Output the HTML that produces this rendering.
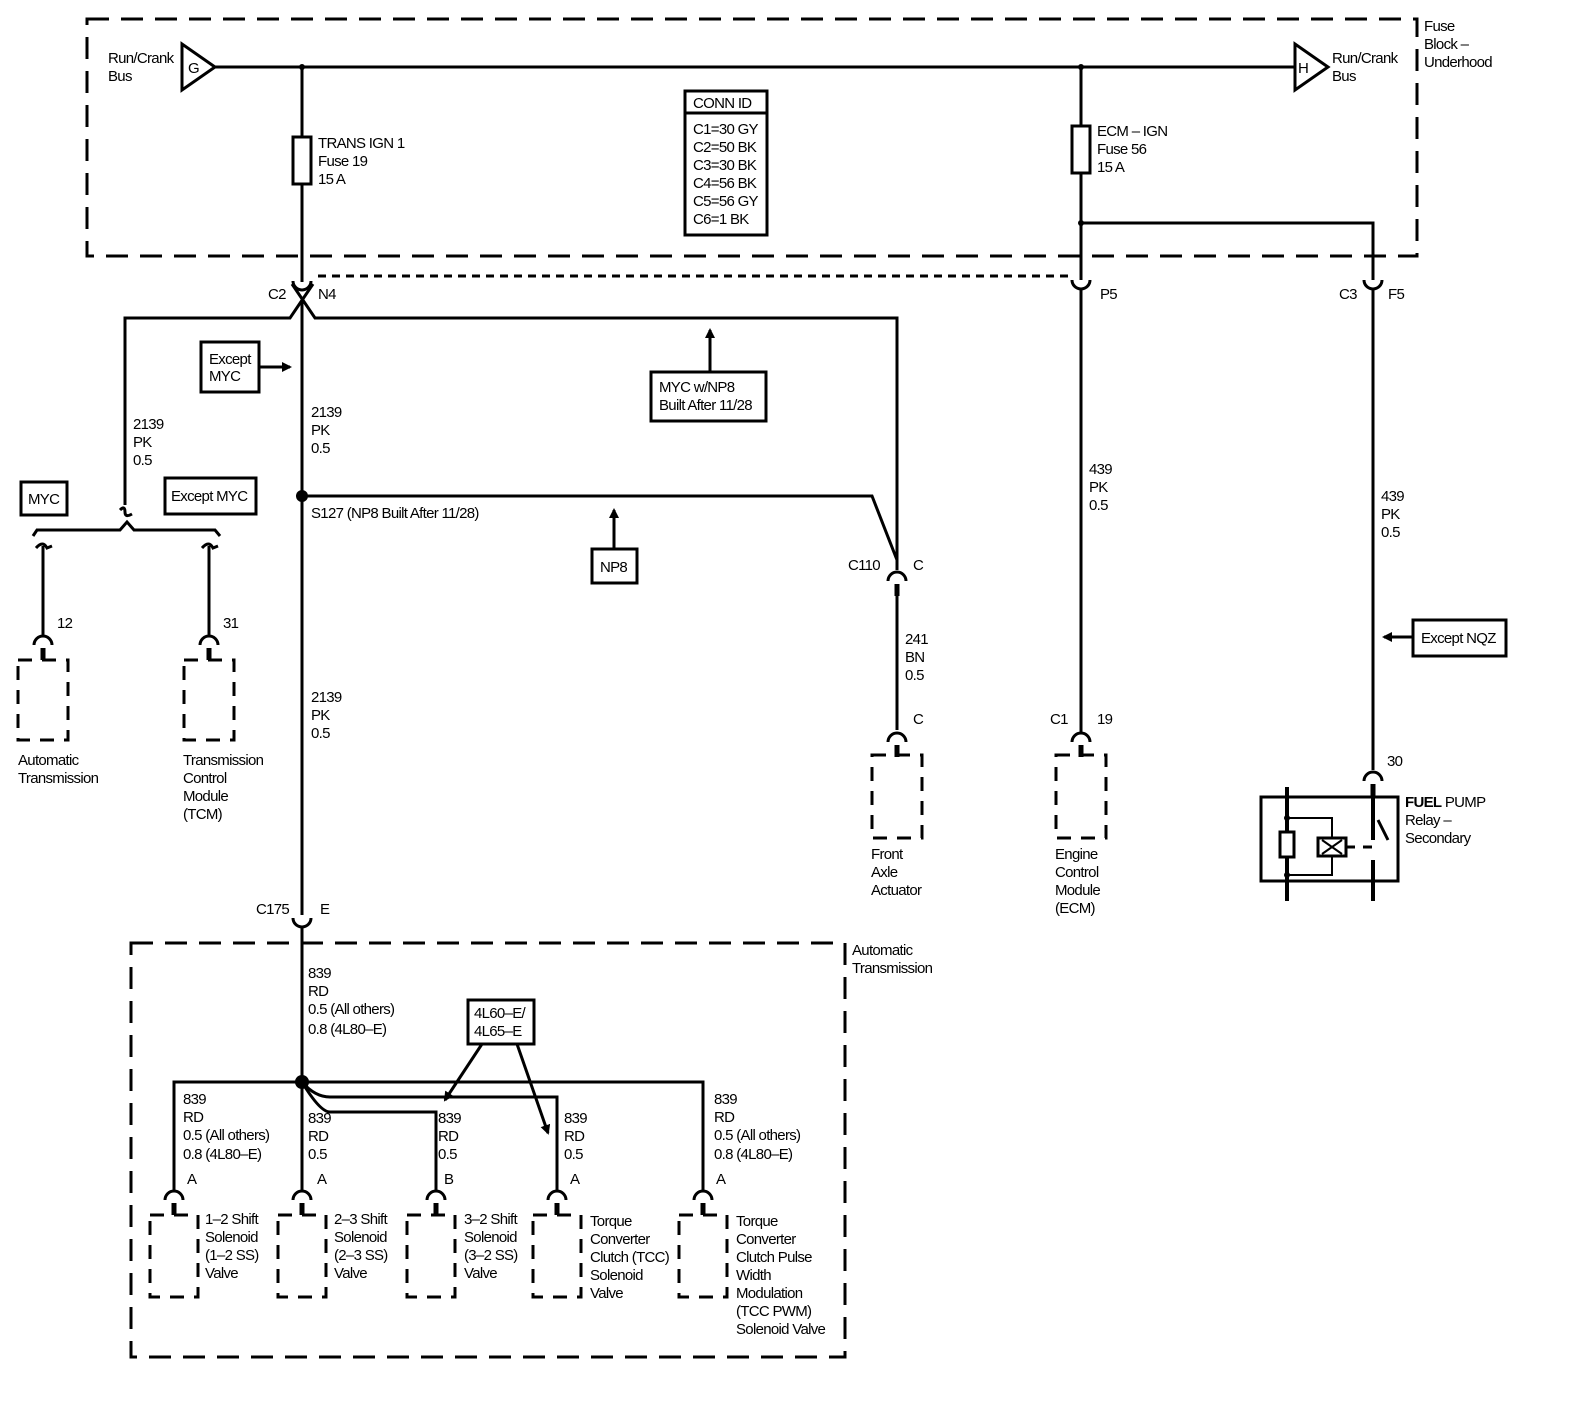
<!DOCTYPE html>
<html><head><meta charset="utf-8"><style>
html,body{margin:0;padding:0;background:#fff}
svg text{font-family:"Liberation Sans",sans-serif;font-size:15px;letter-spacing:-0.7px;fill:#000}
</style></head><body>
<svg width="1584" height="1408" viewBox="0 0 1584 1408" xmlns="http://www.w3.org/2000/svg">
<defs>
<g id="cn"><path d="M-9,5 A9,9 0 0 1 9,5" fill="none" stroke="#000" stroke-width="3"/><line x1="0" y1="8" x2="0" y2="20" stroke="#000" stroke-width="5"/></g>
<g id="cd"><path d="M-9,-5 A9,9 0 0 0 9,-5" fill="none" stroke="#000" stroke-width="3"/></g>
<marker id="ar" markerWidth="10" markerHeight="10" refX="8" refY="5" orient="auto" markerUnits="userSpaceOnUse"><path d="M0,0 L10,5 L0,10 z"/></marker>
</defs>
<g fill="none" stroke="#000" stroke-width="3">
<rect x="87" y="19" width="1330" height="237" stroke-dasharray="22 12"/>
<polygon points="182,44 182,90 215,67" fill="#fff"/>
<polygon points="1295,44 1295,90 1328,67" fill="#fff"/>
<line x1="215" y1="67" x2="1295" y2="67"/>
<line x1="302" y1="67" x2="302" y2="282"/>
<rect x="293" y="137" width="18" height="47" fill="#fff"/>
<line x1="1081" y1="67" x2="1081" y2="280"/>
<rect x="1072" y="126" width="18" height="47" fill="#fff"/>
<polyline points="1081,223 1373,223 1373,280"/>
<rect x="685" y="91" width="82" height="144"/>
<line x1="685" y1="113" x2="767" y2="113"/>
<path d="M293,281 A9,9 0 0 0 311,281"/>
<polyline points="125,505 125,318 290,318 313,284"/>
<polyline points="897,570 897,318 315,318 292,284"/>
<line x1="302" y1="300" x2="302" y2="915"/>
<line x1="318" y1="276" x2="1072" y2="276" stroke-dasharray="8 6"/>
<path d="M1072,280 A9,9 0 0 0 1090,280"/>
<path d="M1364,280 A9,9 0 0 0 1382,280"/>
<line x1="1081" y1="290" x2="1081" y2="732"/>
<line x1="1373" y1="290" x2="1373" y2="770"/>
<path d="M120,510 Q125,505 125,512 Q125,518 132,514"/>
<polyline points="33,536 37,530 120,530 127,522 134,530 215,530 220,536"/>
<path d="M36,548 Q43,540 47,548 L52,546"/>
<path d="M202,548 Q209,540 213,548 L218,546"/>
<line x1="43" y1="546" x2="43" y2="636"/>
<line x1="209" y1="546" x2="209" y2="636"/>
<rect x="21" y="482" width="46" height="33"/>
<rect x="165" y="478" width="91" height="36"/>
<rect x="18" y="660" width="50" height="80" stroke-dasharray="14 10"/>
<rect x="184" y="660" width="50" height="80" stroke-dasharray="14 10"/>
<rect x="201" y="342" width="58" height="50"/>
<line x1="259" y1="367" x2="290" y2="367" marker-end="url(#ar)"/>
<polyline points="302,496 872,496 897,560"/>
<rect x="592" y="549" width="45" height="34"/>
<line x1="614" y1="549" x2="614" y2="510" marker-end="url(#ar)"/>
<rect x="651" y="372" width="115" height="49"/>
<line x1="710" y1="372" x2="710" y2="330" marker-end="url(#ar)"/>
<line x1="897" y1="592" x2="897" y2="730"/>
<rect x="872" y="755" width="50" height="83" stroke-dasharray="14 10"/>
<rect x="1056" y="755" width="50" height="83" stroke-dasharray="14 10"/>
<rect x="1413" y="620" width="93" height="36"/>
<line x1="1413" y1="637" x2="1384" y2="637" marker-end="url(#ar)"/>
<rect x="1261" y="797" width="137" height="84"/>
<line x1="1287" y1="787" x2="1287" y2="901" stroke-width="4"/>
<line x1="1373" y1="790" x2="1373" y2="840" stroke-width="4"/>
<line x1="1388" y1="840" x2="1378" y2="820"/>
<line x1="1373" y1="860" x2="1373" y2="901" stroke-width="4"/>
<rect x="1280" y="832" width="14" height="25" fill="#fff"/>
<polyline points="1287,818 1332,818 1332,875 1287,875" stroke-width="2"/>
<rect x="1318" y="838" width="28" height="18" fill="#fff"/>
<path d="M1322,840 L1342,854 M1342,840 L1322,854" stroke-width="2"/>
<line x1="1346" y1="847" x2="1378" y2="847" stroke-dasharray="9 8"/>
<rect x="131" y="943" width="714" height="414" stroke-dasharray="22 12"/>
<path d="M293,918 A9,9 0 0 0 311,918"/>
<line x1="302" y1="928" x2="302" y2="1190"/>
<polyline points="174,1190 174,1082 703,1082 703,1190"/>
<path d="M302,1082 Q315,1097 330,1097 L557,1097 L557,1190"/>
<path d="M302,1082 Q320,1112 330,1112 L436,1112 L436,1190"/>
<rect x="468" y="1000" width="66" height="44"/>
<line x1="482" y1="1044" x2="445" y2="1100" marker-end="url(#ar)"/>
<line x1="517" y1="1044" x2="548" y2="1133" marker-end="url(#ar)"/>
<rect x="150" y="1215" width="48" height="82" stroke-dasharray="14 10"/>
<rect x="278" y="1215" width="48" height="82" stroke-dasharray="14 10"/>
<rect x="407" y="1215" width="48" height="82" stroke-dasharray="14 10"/>
<rect x="533" y="1215" width="48" height="82" stroke-dasharray="14 10"/>
<rect x="679" y="1215" width="48" height="82" stroke-dasharray="14 10"/>
</g>
<circle cx="302" cy="67" r="3"/><circle cx="1081" cy="67" r="3"/><circle cx="1081" cy="223" r="3"/>
<circle cx="302" cy="496" r="6"/><circle cx="302" cy="1082" r="7"/>
<circle cx="1287" cy="818" r="3"/><circle cx="1287" cy="875" r="3"/>
<use href="#cn" x="43" y="640"/><use href="#cn" x="209" y="640"/>
<use href="#cn" x="897" y="576"/><use href="#cn" x="897" y="737"/>
<use href="#cn" x="1081" y="737"/><use href="#cn" x="1373" y="776"/>
<use href="#cn" x="174" y="1195"/><use href="#cn" x="302" y="1195"/><use href="#cn" x="436" y="1195"/><use href="#cn" x="557" y="1195"/><use href="#cn" x="703" y="1195"/>
<g>
<text x="108" y="63">Run/Crank</text><text x="108" y="81">Bus</text>
<text x="188" y="73" font-size="13">G</text><text x="1298" y="73" font-size="13">H</text>
<text x="1332" y="63">Run/Crank</text><text x="1332" y="81">Bus</text>
<text x="1424" y="31">Fuse</text><text x="1424" y="49">Block –</text><text x="1424" y="67">Underhood</text>
<text x="318" y="148">TRANS IGN 1</text><text x="318" y="166">Fuse 19</text><text x="318" y="184">15 A</text>
<text x="1097" y="136">ECM – IGN</text><text x="1097" y="154">Fuse 56</text><text x="1097" y="172">15 A</text>
<text x="693" y="108">CONN ID</text>
<text x="693" y="134">C1=30 GY</text><text x="693" y="152">C2=50 BK</text><text x="693" y="170">C3=30 BK</text><text x="693" y="188">C4=56 BK</text><text x="693" y="206">C5=56 GY</text><text x="693" y="224">C6=1 BK</text>
<text x="268" y="299">C2</text><text x="318" y="299">N4</text><text x="1100" y="299">P5</text><text x="1339" y="299">C3</text><text x="1388" y="299">F5</text>
<text x="209" y="364">Except</text><text x="209" y="381">MYC</text>
<text x="133" y="429">2139</text><text x="133" y="447">PK</text><text x="133" y="465">0.5</text>
<text x="311" y="417">2139</text><text x="311" y="435">PK</text><text x="311" y="453">0.5</text>
<text x="659" y="392">MYC w/NP8</text><text x="659" y="410">Built After 11/28</text>
<text x="28" y="504">MYC</text><text x="171" y="501">Except MYC</text>
<text x="311" y="518">S127 (NP8 Built After 11/28)</text>
<text x="600" y="572">NP8</text>
<text x="848" y="570">C110</text><text x="913" y="570">C</text>
<text x="57" y="628">12</text><text x="223" y="628">31</text>
<text x="905" y="644">241</text><text x="905" y="662">BN</text><text x="905" y="680">0.5</text>
<text x="1089" y="474">439</text><text x="1089" y="492">PK</text><text x="1089" y="510">0.5</text>
<text x="1381" y="501">439</text><text x="1381" y="519">PK</text><text x="1381" y="537">0.5</text>
<text x="1421" y="643">Except NQZ</text>
<text x="311" y="702">2139</text><text x="311" y="720">PK</text><text x="311" y="738">0.5</text>
<text x="913" y="724">C</text><text x="1050" y="724">C1</text><text x="1097" y="724">19</text>
<text x="1387" y="766">30</text>
<text x="18" y="765">Automatic</text><text x="18" y="783">Transmission</text>
<text x="183" y="765">Transmission</text><text x="183" y="783">Control</text><text x="183" y="801">Module</text><text x="183" y="819">(TCM)</text>
<text x="1405" y="807"><tspan font-weight="bold">FUEL</tspan> PUMP</text><text x="1405" y="825">Relay –</text><text x="1405" y="843">Secondary</text>
<text x="871" y="859">Front</text><text x="871" y="877">Axle</text><text x="871" y="895">Actuator</text>
<text x="1055" y="859">Engine</text><text x="1055" y="877">Control</text><text x="1055" y="895">Module</text><text x="1055" y="913">(ECM)</text>
<text x="256" y="914">C175</text><text x="320" y="914">E</text>
<text x="852" y="955">Automatic</text><text x="852" y="973">Transmission</text>
<text x="308" y="978">839</text><text x="308" y="996">RD</text><text x="308" y="1014">0.5 (All others)</text><text x="308" y="1034">0.8 (4L80–E)</text>
<text x="474" y="1018">4L60–E/</text><text x="474" y="1036">4L65–E</text>
<text x="183" y="1104">839</text><text x="183" y="1122">RD</text><text x="183" y="1140">0.5 (All others)</text><text x="183" y="1159">0.8 (4L80–E)</text>
<text x="308" y="1123">839</text><text x="308" y="1141">RD</text><text x="308" y="1159">0.5</text>
<text x="438" y="1123">839</text><text x="438" y="1141">RD</text><text x="438" y="1159">0.5</text>
<text x="564" y="1123">839</text><text x="564" y="1141">RD</text><text x="564" y="1159">0.5</text>
<text x="714" y="1104">839</text><text x="714" y="1122">RD</text><text x="714" y="1140">0.5 (All others)</text><text x="714" y="1159">0.8 (4L80–E)</text>
<text x="187" y="1184">A</text><text x="317" y="1184">A</text><text x="444" y="1184">B</text><text x="570" y="1184">A</text><text x="716" y="1184">A</text>
<text x="205" y="1224">1–2 Shift</text><text x="205" y="1242">Solenoid</text><text x="205" y="1260">(1–2 SS)</text><text x="205" y="1278">Valve</text>
<text x="334" y="1224">2–3 Shift</text><text x="334" y="1242">Solenoid</text><text x="334" y="1260">(2–3 SS)</text><text x="334" y="1278">Valve</text>
<text x="464" y="1224">3–2 Shift</text><text x="464" y="1242">Solenoid</text><text x="464" y="1260">(3–2 SS)</text><text x="464" y="1278">Valve</text>
<text x="590" y="1226">Torque</text><text x="590" y="1244">Converter</text><text x="590" y="1262">Clutch (TCC)</text><text x="590" y="1280">Solenoid</text><text x="590" y="1298">Valve</text>
<text x="736" y="1226">Torque</text><text x="736" y="1244">Converter</text><text x="736" y="1262">Clutch Pulse</text><text x="736" y="1280">Width</text><text x="736" y="1298">Modulation</text><text x="736" y="1316">(TCC PWM)</text><text x="736" y="1334">Solenoid Valve</text>
</g>
</svg>
</body></html>
